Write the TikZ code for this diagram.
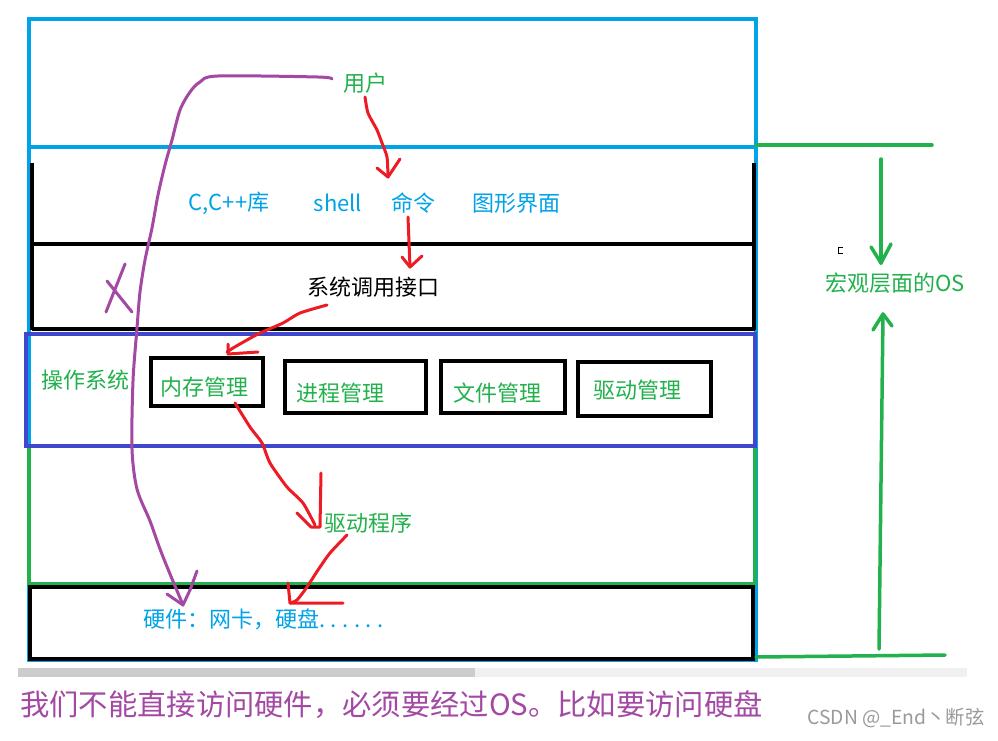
\documentclass[tikz,border=0pt]{standalone}
\usepackage{fontspec}
\setmainfont{Noto Sans CJK SC}
\definecolor{cyanc}{HTML}{00A2E8}
\definecolor{greenc}{HTML}{22B14C}
\definecolor{bluec}{HTML}{3F48CC}
\definecolor{purplec}{HTML}{A349A4}
\definecolor{redc}{HTML}{ED1C24}
\definecolor{wmgray}{HTML}{9A9A9A}
\newcommand{\sdot}{.\kern5.5pt}
\begin{document}
\begin{tikzpicture}[x=1pt,y=-1pt,
  lbl/.style={inner sep=0pt, font=\fontsize{22}{26}\selectfont},
  mgr/.style={draw=black, line width=4pt, lbl, align=left, inner ysep=0pt, text=greenc, text depth=2.6pt},
  pen/.style={line width=3pt, line cap=round, line join=round},
  redpen/.style={pen, draw=redc},
  purpen/.style={pen, draw=purplec},
  grnpen/.style={line width=3.5pt, line cap=round, line join=round, draw=greenc}]
\useasboundingbox (0,0) rectangle (998,740);
\fill[white] (0,0) rectangle (998,740);
% layers
\draw[cyanc, line width=4pt] (29,19) rectangle (756,660);
\draw[cyanc, line width=4pt] (29,147) -- (756,147);
\draw[black, line width=4pt] (32,163) -- (32,330);
\draw[black, line width=3.5pt] (754,163) -- (754,330);
\draw[black, line width=3.5pt] (32,244) -- (755,244);
\draw[black, line width=4pt] (32,329) -- (755,329);
\draw[greenc, line width=3.5pt] (29,446) rectangle (755,584);
\draw[bluec, line width=4pt] (26,334) rectangle (755,446);
\draw[black, line width=4pt] (30,587) rectangle (753,659);
% scrollbar
\fill[gray!40] (18,668) rectangle (475,677);
\fill[gray!12] (475,668) rectangle (967,677);
% texts
\node[lbl, text=greenc] (usr) at (365,83) {用户};
\node[lbl, text=cyanc] (clib) at (229,203) {C,C++库};
\node[lbl, text=cyanc] (shell) at (338,203) {shell};
\node[lbl, text=cyanc] (cmd) at (413,203) {命令};
\node[lbl, text=cyanc] (gui) at (516,203) {图形界面};
\node[lbl, text=black] (sys) at (373,287) {系统调用接口};
\node[lbl, text=greenc] (os) at (85,380) {操作系统};
\node[mgr, text width=94pt, inner xsep=9pt, minimum height=48pt, text height=29.4pt] (mem) at (207,382) {内存管理};
\node[mgr, text width=119pt, inner xsep=11pt, minimum height=52pt, text height=31.4pt] (proc) at (355.5,387) {进程管理};
\node[mgr, text width=100pt, inner xsep=12pt, minimum height=52pt, text height=31.4pt] (file) at (503,387) {文件管理};
\node[mgr, text width=103pt, inner xsep=15pt, minimum height=54pt, text height=21.4pt] (drv) at (644.5,389) {驱动管理};
\node[lbl, text=greenc] (drvprog) at (368,523) {驱动程序};
\node[lbl, text=cyanc, anchor=west] (hw) at (143,619) {硬件：网卡，硬盘\sdot\sdot\sdot\sdot\sdot.};
\node[lbl, text=greenc] (macro) at (895,283) {宏观层面的OS};
\node[inner sep=0pt, anchor=west, text=purplec, font=\fontsize{29.3}{32}\selectfont] (note) at (20,705) {我们不能直接访问硬件，必须要经过OS。比如要访问硬盘};
\node[inner sep=0pt, text=wmgray, font=\fontsize{19.3}{22}\selectfont] (wm) at (896,718) {CSDN @\_End丶断弦};
% coordinates for hand-drawn connectors
\coordinate (a1s) at (365,97);  \coordinate (a1e) at (388,177);
\coordinate (a2s) at (408,217); \coordinate (a2e) at (410,267);
\coordinate (a3s) at (327,305); \coordinate (a3e) at (227,352);
\coordinate (a4s) at (235,403); \coordinate (a4e) at (315,525);
\coordinate (a5s) at (347,535); \coordinate (a5e) at (290,603);
\coordinate (ps) at (332,79);   \coordinate (pe) at (183,605);
\coordinate (gt1) at (756,145); \coordinate (gt2) at (932,145);
\coordinate (gb1) at (756,657); \coordinate (gb2) at (945,655);
\coordinate (gd1) at (881,159); \coordinate (gd2) at (881,263);
\coordinate (gu1) at (879,649); \coordinate (gu2) at (883,314);
% red arrows
\draw[redpen] plot[smooth, tension=0.4] coordinates {(a1s) (368,113) (377,130) (382,143) (387,157) (a1e)};
\draw[redpen] (a1e) ++(-11,-9) -- (a1e) -- ++(12,-18);
\draw[redpen] (a2s) -- (a2e);
\draw[redpen] (a2e) ++(-8,-10) -- (a2e) -- ++(12,-11);
\draw[redpen] plot[smooth, tension=0.4] coordinates {(a3s) (300,313) (283,323) (260,333) (247,340) (233,348) (a3e)};
\draw[redpen] (228,344) -- (228,354) -- (258,352);
\draw[redpen] plot[smooth, tension=0.4] coordinates {(a4s) (250,427) (262,443) (270,463) (287,487) (303,503) (a4e)};
\draw[redpen] (297,513) -- (311,527) -- (320,527) -- (321,473);
\draw[redpen] plot[smooth, tension=0.4] coordinates {(a5s) (330,553) (318,570) (307,587) (297,600) (a5e)};
\draw[redpen] (288,583) -- (a5e) -- (343,603);
% purple
\draw[purpen] plot[smooth, tension=0.5] coordinates {(ps) (318,77) (218,76) (200,82) (190,92) (180,110) (172,140) (165,165) (158,195) (152,228) (145,260) (140,292) (137,328) (133,381) (132,449) (137,489) (150,521) (160,549) (170,574) (pe)};
\draw[purpen] (167,594) -- (pe) -- (190,590) -- (197,571);
\draw[purpen] (107,281) -- (132,312);
\draw[purpen] (125,264) -- (106,312);
% green bracket
\draw[grnpen] (gt1) -- (gt2);
\draw[grnpen] (gb1) -- (gb2);
\draw[grnpen] (gd1) -- (gd2);
\draw[grnpen] (gd2) ++(-10,-16) -- (gd2) -- ++(10,-19);
\draw[grnpen] (gu1) -- (gu2);
\draw[grnpen] (gu2) ++(-10,16) -- (gu2) -- ++(9,12);
% tiny mark
\draw[black, line width=0.8pt] (843,247) -- (838,247) -- (838,253) -- (843,253);
\end{tikzpicture}
\end{document}
